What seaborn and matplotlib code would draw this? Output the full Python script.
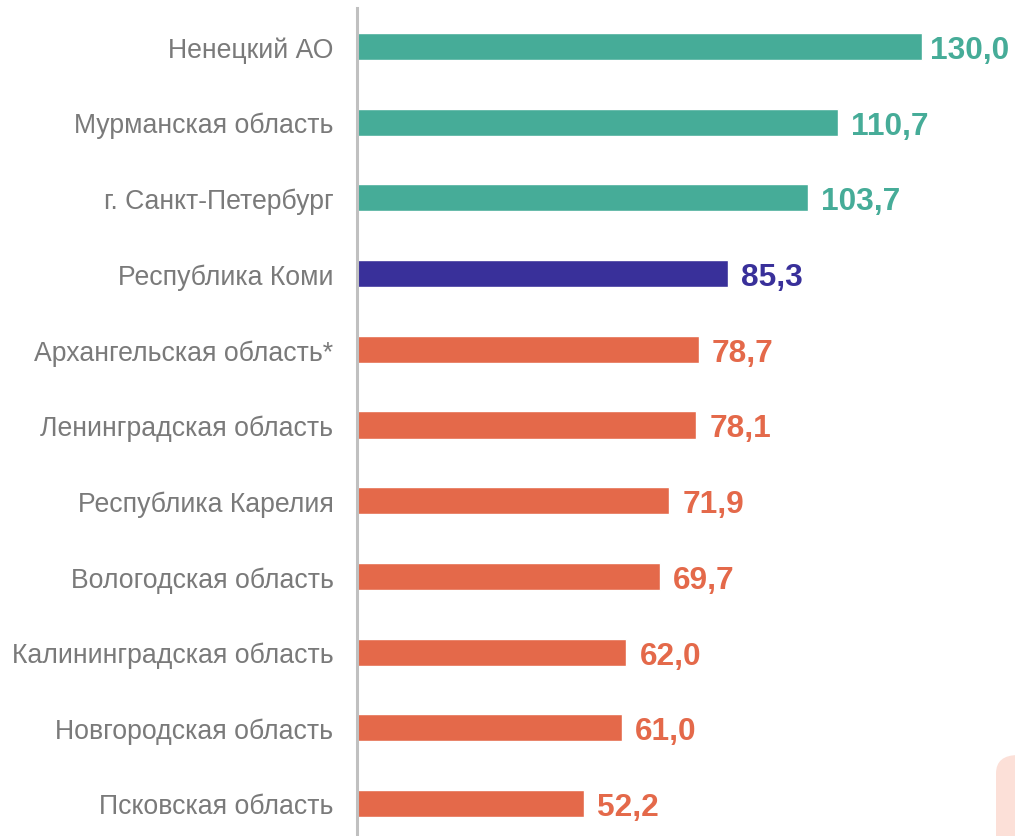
import matplotlib
matplotlib.use("Agg")
import matplotlib.pyplot as plt
import seaborn as sns
import pandas as pd
from matplotlib.patches import FancyBboxPatch

regions = ["Ненецкий АО", "Мурманская область", "г. Санкт-Петербург", "Республика Коми",
           "Архангельская область*", "Ленинградская область", "Республика Карелия",
           "Вологодская область", "Калининградская область", "Новгородская область",
           "Псковская область"]
values = [130.0, 110.7, 103.7, 85.3, 78.7, 78.1, 71.9, 69.7, 62.0, 61.0, 52.2]
teal, navy, orange = "#46AC98", "#39309A", "#E4694A"
colors = [teal, teal, teal, navy] + [orange] * 7

df = pd.DataFrame({"region": regions, "value": values})

sns.set_theme(style="white")
plt.rcParams['font.family'] = ['Liberation Sans', 'DejaVu Sans']

W, H = 1015, 837
fig = plt.figure(figsize=(W / 100, H / 100), dpi=100)
ax = fig.add_axes([357 / W, 0, (W - 357) / W, (837 - 9) / H])

sns.barplot(data=df, y="region", x="value", hue="region", palette=colors,
            orient="h", width=0.357, legend=False, ax=ax, saturation=1)

ax.set_xlim(0, (W - 357) / 4.346)
ax.set_ylim(10.43, -0.509)
ax.set_xlabel("")
ax.set_ylabel("")
ax.set_xticks([])
for s in ["top", "right", "bottom"]:
    ax.spines[s].set_visible(False)
ax.spines["left"].set_color("#C0C0C0")
ax.spines["left"].set_linewidth(2.2)
ax.tick_params(axis="y", length=0, pad=17, labelsize=19.2, labelcolor="#7A7A7A")

for i, (v, c) in enumerate(zip(values, colors)):
    dx = 13 if v < 120 else 8
    ax.annotate(f"{v:.1f}".replace(".", ","), xy=(v, i), xytext=(dx * 0.72, -11.5 * 0.72),
                textcoords="offset points", va="baseline", ha="left",
                fontsize=22.8, fontweight="bold", color=c)

fig.patches.append(FancyBboxPatch((996 / W, -0.05), 0.1, (837 - 756) / H + 0.05,
                                  boxstyle="round,pad=0,rounding_size=0.022",
                                  transform=fig.transFigure, facecolor="#FCE0D8",
                                  edgecolor="none", zorder=0))

fig.savefig("out.png", dpi=100)
